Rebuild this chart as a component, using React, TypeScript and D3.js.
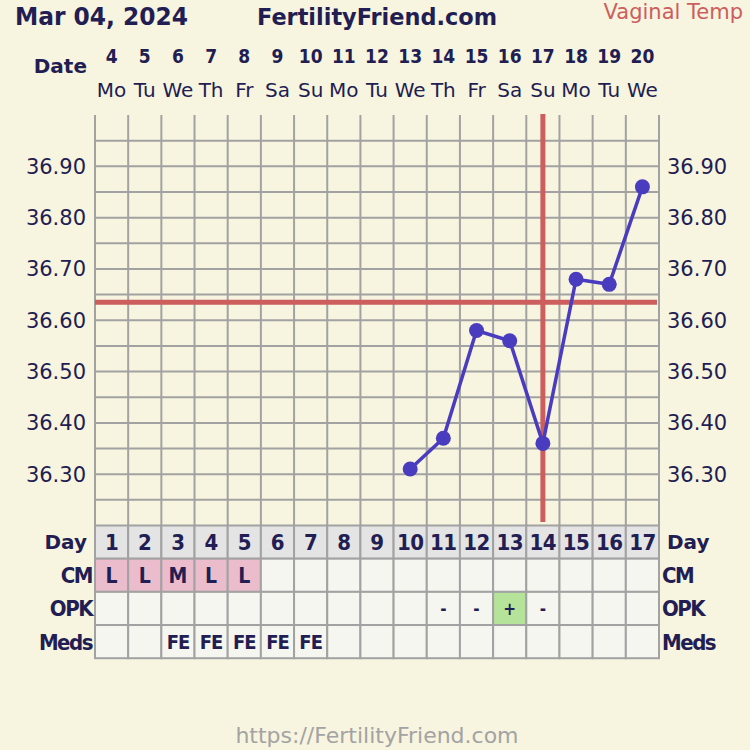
import React from "react";
import * as d3 from "d3";

const dates = [4, 5, 6, 7, 8, 9, 10, 11, 12, 13, 14, 15, 16, 17, 18, 19, 20];
const weekdays = ["Mo", "Tu", "We", "Th", "Fr", "Sa", "Su", "Mo", "Tu", "We", "Th", "Fr", "Sa", "Su", "Mo", "Tu", "We"];
const cycleDays = [1, 2, 3, 4, 5, 6, 7, 8, 9, 10, 11, 12, 13, 14, 15, 16, 17];
const temps: (number | null)[] = [null, null, null, null, null, null, null, null, null, 36.31, 36.37, 36.58, 36.56, 36.36, 36.68, 36.67, 36.86];
const cm = ["L", "L", "M", "L", "L", "", "", "", "", "", "", "", "", "", "", "", ""];
const opk = ["", "", "", "", "", "", "", "", "", "", "-", "-", "+", "-", "", "", ""];
const meds = ["", "", "FE", "FE", "FE", "FE", "FE", "", "", "", "", "", "", "", "", "", ""];
const yTicks = [36.3, 36.4, 36.5, 36.6, 36.7, 36.8, 36.9];
const gridTemps = d3.range(36.25, 36.999, 0.05);
const coverline = 36.635;
const ovulationDay = 14;

const NAVY = "#221d52";
const GRID = "#a2a2a2";
const RED = "#cc5e5e";
const BLUE = "#4a3cbf";
const BG = "#f7f4df";
const FONT = "'DejaVu Sans', Verdana, sans-serif";
const COND = "'DejaVu Sans Condensed', 'DejaVu Sans', sans-serif";

export default function App() {
  const W = 750, H = 750;
  const x = d3.scaleBand<number>().domain(cycleDays).range([95, 659]);
  const bw = x.bandwidth();
  const cx = (d: number) => (x(d) as number) + bw / 2;
  const y = d3.scaleLinear().domain([36.2, 37.0]).range([525.5, 115]);
  const rowH = bw;
  const tableTop = y(36.2);
  const rows = [
    { label: "Day", values: cycleDays.map(String), fill: () => "#e4e4e4", size: 22, ls: -0.5 },
    { label: "CM", values: cm, fill: (v: string) => (v ? "#ebbccb" : "#f6f6f0"), size: 21, ls: 0 },
    { label: "OPK", values: opk, fill: (v: string) => (v === "+" ? "#b5e39a" : "#f6f6f0"), size: 17, ls: 0 },
    { label: "Meds", values: meds, fill: () => "#f6f6f0", size: 20, ls: -1 },
  ];
  const pts = cycleDays.map((d, i) => ({ d, t: temps[i] })).filter((p) => p.t !== null) as { d: number; t: number }[];
  const line = d3.line<{ d: number; t: number }>().x((p) => cx(p.d)).y((p) => y(p.t));

  return (
    <svg width={W} height={H} style={{ position: "absolute", left: 0, top: 0, display: "block" }}>
      <rect x={0} y={0} width={W} height={H} fill={BG} />
      <text x={15} y={25} fontFamily={FONT} fontWeight="bold" fontSize={24} textLength={173} lengthAdjust="spacingAndGlyphs" fill={NAVY}>Mar 04, 2024</text>
      <text x={377} y={25} textAnchor="middle" fontFamily={FONT} fontWeight="bold" fontSize={23} textLength={240} lengthAdjust="spacingAndGlyphs" fill={NAVY}>FertilityFriend.com</text>
      <text x={743} y={19} textAnchor="end" fontFamily={FONT} fontSize={21} fill={RED}>Vaginal Temp</text>
      <text x={87} y={73} textAnchor="end" fontFamily={FONT} fontWeight="bold" fontSize={20} fill={NAVY}>Date</text>
      {cycleDays.map((d, i) => (
        <g key={"dt" + d}>
          <text x={cx(d)} y={63} textAnchor="middle" fontFamily={COND} fontWeight="bold" fontSize={19} fill={NAVY}>{dates[i]}</text>
          <text x={cx(d)} y={97} textAnchor="middle" fontFamily={FONT} fontSize={20} fill={NAVY}>{weekdays[i]}</text>
        </g>
      ))}
      {gridTemps.map((t) => (
        <line key={"h" + t} x1={95} x2={659} y1={y(t)} y2={y(t)} stroke={GRID} strokeWidth={2} />
      ))}
      {[...cycleDays, 18].map((d, i) => {
        const xx = 95 + i * bw;
        return <line key={"v" + i} x1={xx} x2={xx} y1={115} y2={tableTop} stroke={GRID} strokeWidth={2} />;
      })}
      {yTicks.map((t) => (
        <g key={"yt" + t}>
          <text x={86} y={y(t) + 7.5} textAnchor="end" fontFamily={FONT} fontSize={21} fill={NAVY}>{t.toFixed(2)}</text>
          <text x={667} y={y(t) + 7.5} fontFamily={FONT} fontSize={21} fill={NAVY}>{t.toFixed(2)}</text>
        </g>
      ))}
      <line x1={95} x2={657} y1={y(coverline)} y2={y(coverline)} stroke={RED} strokeWidth={5} />
      <line x1={cx(ovulationDay)} x2={cx(ovulationDay)} y1={114} y2={522} stroke={RED} strokeWidth={5} />
      <path d={line(pts) || ""} fill="none" stroke={BLUE} strokeWidth={3.5} />
      {pts.map((p) => (
        <circle key={"p" + p.d} cx={cx(p.d)} cy={y(p.t)} r={7.5} fill={BLUE} />
      ))}
      {rows.map((r, ri) => {
        const ry = tableTop + ri * rowH;
        return (
          <g key={"row" + ri}>
            {cycleDays.map((d, i) => (
              <g key={"c" + d}>
                <rect x={x(d)} y={ry} width={bw} height={rowH} fill={r.fill(r.values[i])} stroke={GRID} strokeWidth={2} />
                {r.values[i] && (
                  <text x={cx(d)} y={ry + rowH / 2} dy="0.36em" textAnchor="middle" fontFamily={COND} fontWeight="bold"
                    fontSize={r.size} letterSpacing={r.ls} fill={NAVY}>{r.values[i]}</text>
                )}
              </g>
            ))}
            <text x={ri === 0 ? 87 : 92} y={ry + rowH / 2} dy="0.36em" textAnchor="end" fontFamily={ri === 0 ? FONT : COND}
              fontWeight="bold" fontSize={ri === 0 ? 20 : 22} letterSpacing={ri === 0 ? 0 : -1.5} fill={NAVY}>{r.label}</text>
            <text x={ri === 0 ? 667 : 662} y={ry + rowH / 2} dy="0.36em" fontFamily={ri === 0 ? FONT : COND}
              fontWeight="bold" fontSize={ri === 0 ? 20 : 22} letterSpacing={ri === 0 ? 0 : -1.5} fill={NAVY}>{r.label}</text>
          </g>
        );
      })}
      <text x={377} y={743} textAnchor="middle" fontFamily={FONT} fontSize={22} fill="#a3a3a3">https://FertilityFriend.com</text>
    </svg>
  );
}
